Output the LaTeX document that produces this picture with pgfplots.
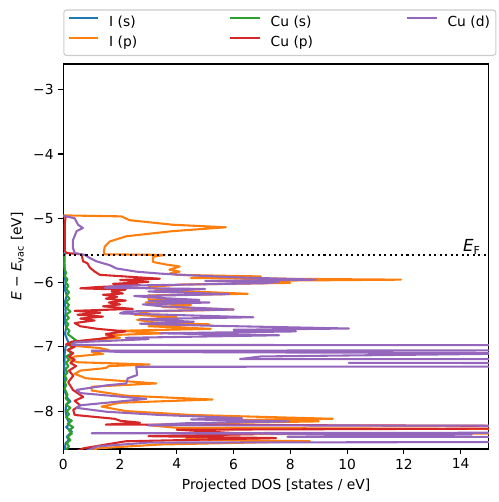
\documentclass[border=0pt]{standalone}
\usepackage{pgfplots}
\pgfplotsset{compat=1.18}
\usepackage{fontspec}
\setmainfont{DejaVu Sans}
\definecolor{c0}{HTML}{1F77B4}
\definecolor{c1}{HTML}{FF7F0E}
\definecolor{c2}{HTML}{2CA02C}
\definecolor{c3}{HTML}{D62728}
\definecolor{c4}{HTML}{9467BD}
\definecolor{legframe}{HTML}{CCCCCC}
\tikzset{dos/.style={line width=1.5pt, line join=round}}
\begin{document}
\begin{tikzpicture}
\useasboundingbox (-45.75pt,-38.3pt) rectangle (314.2pt,324.5pt);
\begin{axis}[
  at={(0,0)}, anchor=south west,
  scale only axis, width=307.6pt, height=278.2pt,
  xmin=0, xmax=15, ymin=-8.59, ymax=-2.6,
  axis line style={line width=0.8pt},
  tick align=outside, tick pos=left,
  major tick length=3.5pt,
  tick style={line width=0.8pt, black},
  xtick={0,2,4,6,8,10,12,14},
  xticklabels={0,2,4,6,8,10,12,14},
  ytick={-8,-7,-6,-5,-4,-3},
  yticklabels={−8,−7,−6,−5,−4,−3},
  ticklabel style={font=\fontsize{10}{12}\selectfont},
  label style={font=\fontsize{10}{12}\selectfont},
  xlabel={Projected DOS [states / eV]},
  ylabel={{\itshape E} − {\itshape E}\textsubscript{vac} [eV]},
  legend image code/.code={\draw[#1] (0pt,3.6pt) -- (21.2pt,3.6pt);},
  legend style={at={(0,1)}, anchor=south west, yshift=5.8pt,
    draw=legframe, rounded corners=2pt, line width=0.8pt,
    inner xsep=2.9pt, inner ysep=4.2pt,
    font=\fontsize{10}{12}\selectfont,
    nodes={inner sep=0pt, text height=7.5pt, text depth=2.5pt},
    row sep=4.45pt, column sep=0pt},
  legend columns=3, legend cell align=left,
]
% I (s)
\addplot[c0, dos, forget plot] coordinates {
(0,-5.54) (0.05,-5.56) (0.04,-5.7) (0.05,-5.9) (0.08,-6.0) (0.05,-6.1) (0.12,-6.2) (0.06,-6.3) (0.08,-6.45) (0.05,-6.6) (0.1,-6.7) (0.06,-6.8) (0.15,-6.9) (0.2,-6.95) (0.08,-7.0) (0.05,-7.1) (0.04,-7.3) (0.05,-7.5) (0.06,-7.7) (0.15,-7.8) (0.25,-7.85) (0.1,-7.9) (0.08,-8.0) (0.12,-8.1) (0.22,-8.2) (0.1,-8.25) (0.3,-8.32) (0.12,-8.4) (0.2,-8.45) (0.08,-8.5) (0.05,-8.62)
};
% I (p)
\addplot[c1, dos, forget plot] coordinates {
(0,-4.955) (2.05,-4.97) (2.34,-5.03) (3.85,-5.10) (5.73,-5.14) (3.85,-5.20) (2.22,-5.28) (1.64,-5.36) (1.46,-5.44) (1.43,-5.52) (1.45,-5.56) (3.57,-5.57) (3.16,-5.60) (3.16,-5.68) (3.63,-5.72) (4.1,-5.75) (3.74,-5.80) (4.1,-5.83) (3.74,-5.86) (4.0,-5.88) (6.96,-5.905) (4.5,-5.93) (11.9,-5.955) (6.0,-5.975) (8.0,-6.005) (4.2,-6.03) (3.0,-6.07) (3.5,-6.12) (6.5,-6.175) (3.0,-6.2) (3.0,-6.26) (4.3,-6.29) (2.9,-6.31) (4.5,-6.35) (3.5,-6.38) (6.0,-6.42) (3.0,-6.45) (2.5,-6.5) (4.0,-6.54) (2.6,-6.58) (3.2,-6.62) (5.15,-6.65) (3.0,-6.68) (5.2,-6.72) (2.0,-6.75) (3.5,-6.79) (1.5,-6.82) (2.0,-6.86) (1.0,-6.89) (0.3,-6.93) (0.25,-6.98) (1.3,-7.02) (1.6,-7.05) (1.0,-7.08) (1.4,-7.11) (0.4,-7.15) (0.2,-7.2) (0.5,-7.24) (3.04,-7.275) (1.6,-7.30) (1.5,-7.33) (0.6,-7.37) (0.4,-7.42) (0.8,-7.49) (3.28,-7.57) (1.0,-7.62) (1.0,-7.68) (2.2,-7.76) (5.26,-7.82) (2.0,-7.87) (1.35,-7.93) (2.2,-8.0) (4.5,-8.06) (9.5,-8.12) (6,-8.14) (9.0,-8.16) (5,-8.19) (3,-8.22) (4,-8.26) (40,-8.32) (6,-8.36) (5,-8.40) (4.3,-8.44) (8.7,-8.47) (3.4,-8.52) (1.2,-8.58) (1.0,-8.62)
};
% Cu (s)
\addplot[c2, dos, forget plot] coordinates {
(0,-5.55) (0.02,-5.6) (0.03,-5.7) (0.05,-5.8) (0.1,-5.85) (0.05,-5.9) (0.15,-5.95) (0.08,-6.0) (0.18,-6.05) (0.1,-6.1) (0.2,-6.15) (0.12,-6.2) (0.22,-6.25) (0.1,-6.3) (0.2,-6.35) (0.12,-6.4) (0.25,-6.45) (0.1,-6.5) (0.2,-6.55) (0.08,-6.6) (0.18,-6.65) (0.1,-6.7) (0.22,-6.75) (0.15,-6.8) (0.3,-6.85) (0.45,-6.9) (0.2,-6.95) (0.35,-7.0) (0.15,-7.05) (0.3,-7.1) (0.1,-7.15) (0.2,-7.2) (0.1,-7.25) (0.18,-7.3) (0.08,-7.35) (0.15,-7.4) (0.05,-7.45) (0.12,-7.5) (0.05,-7.55) (0.1,-7.6) (0.04,-7.65) (0.1,-7.7) (0.15,-7.75) (0.08,-7.8) (0.2,-7.85) (0.1,-7.9) (0.25,-7.95) (0.12,-8.0) (0.2,-8.05) (0.1,-8.1) (0.3,-8.15) (0.15,-8.2) (0.35,-8.25) (0.2,-8.3) (0.3,-8.35) (0.15,-8.4) (0.25,-8.45) (0.12,-8.5) (0.2,-8.55) (0.1,-8.6) (0.1,-8.62)
};
% Cu (p)
\addplot[c3, dos, forget plot] coordinates {
(0,-4.96) (0.08,-4.98) (0.05,-5.1) (0.05,-5.3) (0.05,-5.5) (0.1,-5.54) (0.64,-5.56) (0.7,-5.67) (0.85,-5.70) (0.94,-5.77) (1.11,-5.83) (1.29,-5.88) (3.4,-5.94) (2.0,-5.96) (3.0,-5.99) (1.75,-6.02) (2.7,-6.04) (1.2,-6.07) (0.6,-6.09) (2.2,-6.11) (1.7,-6.14) (2.1,-6.17) (1.4,-6.19) (1.9,-6.22) (1.5,-6.25) (2.2,-6.28) (1.6,-6.31) (2.0,-6.34) (1.4,-6.37) (2.45,-6.41) (0.4,-6.44) (1.3,-6.47) (0.5,-6.50) (1.4,-6.53) (0.6,-6.56) (1.1,-6.59) (0.4,-6.63) (0.6,-6.68) (1.2,-6.72) (2.2,-6.76) (1.5,-6.80) (1.8,-6.84) (1.2,-6.88) (0.3,-6.92) (0.1,-6.96) (0.4,-7.00) (0.15,-7.05) (0.35,-7.10) (0.2,-7.15) (0.4,-7.20) (0.25,-7.25) (0.45,-7.30) (0.2,-7.37) (0.35,-7.45) (0.17,-7.55) (0.34,-7.67) (0.7,-7.78) (0.4,-7.84) (0.6,-7.91) (0.35,-7.98) (0.4,-8.06) (1.81,-8.12) (2.0,-8.15) (2.7,-8.18) (1.5,-8.21) (30,-8.25) (4.0,-8.29) (6.7,-8.36) (3.0,-8.39) (7.5,-8.42) (2.2,-8.47) (1.5,-8.52) (0.7,-8.58) (0.5,-8.62)
};
% Cu (d)
\addplot[c4, dos, forget plot] coordinates {
(0,-4.96) (0.4,-5.0) (0.52,-5.10) (0.69,-5.15) (0.47,-5.20) (0.34,-5.34) (0.34,-5.46) (0.4,-5.54) (0.76,-5.57) (0.94,-5.62) (1.17,-5.67) (1.64,-5.73) (1.87,-5.78) (2.57,-5.83) (3.39,-5.86) (4.6,-5.89) (6.2,-5.92) (8.9,-5.955) (5.0,-5.975) (7.6,-5.99) (7.1,-6.01) (2.0,-6.05) (1.46,-6.08) (5.0,-6.10) (3.0,-6.14) (5.85,-6.18) (2.5,-6.21) (3.4,-6.24) (4.8,-6.27) (3.0,-6.29) (5.15,-6.31) (2.8,-6.34) (3.5,-6.37) (6.0,-6.42) (2.2,-6.45) (2.0,-6.48) (6.7,-6.54) (2.7,-6.57) (4.6,-6.61) (2.7,-6.64) (5.0,-6.67) (10.06,-6.715) (6,-6.735) (8.2,-6.76) (3.4,-6.79) (7.6,-6.82) (2.2,-6.86) (3.0,-6.88) (0.4,-6.93) (0.3,-6.97) (80,-6.995) (80,-7.035) (1.0,-7.06) (2.0,-7.08) (17,-7.10) (6.96,-7.15) (6.23,-7.19) (80,-7.20) (80,-7.23) (10.06,-7.25) (80,-7.27) (80,-7.30) (2.57,-7.31) (2.6,-7.44) (2.27,-7.49) (2.22,-7.57) (1.52,-7.60) (0.47,-7.67) (0.6,-7.72) (2.93,-7.81) (0.59,-7.91) (0.47,-7.95) (1.52,-8.01) (3.39,-8.06) (6.3,-8.11) (4.5,-8.13) (7.96,-8.16) (4.27,-8.19) (3.0,-8.22) (80,-8.27) (80,-8.30) (1.0,-8.345) (14.4,-8.36) (7.9,-8.40) (80,-8.415) (80,-8.44) (3.0,-8.49) (1.2,-8.55) (0.8,-8.62)
};
% Fermi level
\addplot[black, line width=1.5pt, dash pattern=on 1.5pt off 2.5pt, forget plot] coordinates {(0,-5.57) (15,-5.57)};
\node[anchor=base east, inner sep=0pt, font=\fontsize{12}{14}\selectfont] at (axis cs:14.72,-5.52) {\itshape E\textsubscript{\upshape F}};
\addlegendimage{c0, line width=1.5pt}
\addlegendentry{\hspace{7.2pt}\makebox[86.8pt][l]{I (s)}}
\addlegendimage{c2, line width=1.5pt}
\addlegendentry{\hspace{7.2pt}\makebox[97.9pt][l]{Cu (s)}}
\addlegendimage{c4, line width=1.5pt}
\addlegendentry{\hspace{7.2pt}\makebox[32pt][l]{Cu (d)}}
\addlegendimage{c1, line width=1.5pt}
\addlegendentry{\hspace{7.2pt}\makebox[86.8pt][l]{I (p)}}
\addlegendimage{c3, line width=1.5pt}
\addlegendentry{\hspace{7.2pt}\makebox[97.9pt][l]{Cu (p)}}
\end{axis}
\end{tikzpicture}
\end{document}
